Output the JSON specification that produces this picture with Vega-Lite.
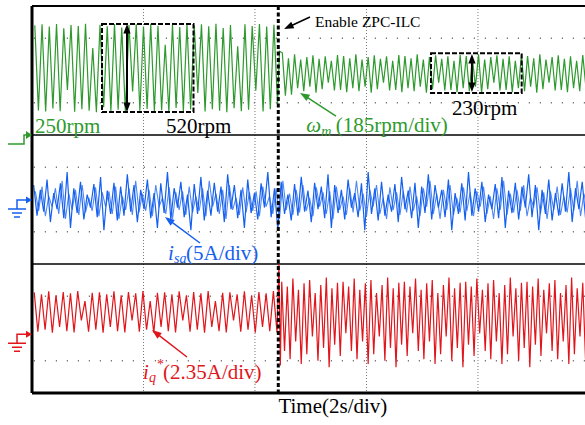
{
"$schema": "https://vega.github.io/schema/vega-lite/v6.json",
"width": 553, "height": 387, "autosize": "none",
"padding": {"left": 32, "top": 6, "right": 0, "bottom": 32},
"background": "white",
"config": {"view": {"stroke": null}},
"datasets": {
"g": [{"t":0.05,"v":11.40},{"t":0.115,"v":8.76},{"t":0.18,"v":11.43},{"t":0.245,"v":8.73},{"t":0.31,"v":11.36},{"t":0.375,"v":8.82},{"t":0.44,"v":11.44},{"t":0.505,"v":8.74},{"t":0.57,"v":11.31},{"t":0.635,"v":9.40},{"t":0.7,"v":11.41},{"t":0.765,"v":8.72},{"t":0.83,"v":11.38},{"t":0.895,"v":8.80},{"t":0.96,"v":11.45},{"t":1.025,"v":8.75},{"t":1.09,"v":10.70},{"t":1.155,"v":8.71},{"t":1.22,"v":11.42},{"t":1.285,"v":8.86},{"t":1.35,"v":11.37},{"t":1.415,"v":8.74},{"t":1.48,"v":11.44},{"t":1.545,"v":8.78},{"t":1.61,"v":11.33},{"t":1.675,"v":8.72},{"t":1.74,"v":11.41},{"t":1.805,"v":9.35},{"t":1.87,"v":11.43},{"t":1.935,"v":8.75},{"t":2.0,"v":11.36},{"t":2.065,"v":8.81},{"t":2.13,"v":11.45},{"t":2.195,"v":8.73},{"t":2.26,"v":11.39},{"t":2.325,"v":8.77},{"t":2.39,"v":10.80},{"t":2.455,"v":8.72},{"t":2.52,"v":11.42},{"t":2.585,"v":8.84},{"t":2.65,"v":11.35},{"t":2.715,"v":8.74},{"t":2.78,"v":11.44},{"t":2.845,"v":8.79},{"t":2.91,"v":11.40},{"t":2.975,"v":9.30},{"t":3.04,"v":11.43},{"t":3.105,"v":8.73},{"t":3.17,"v":11.37},{"t":3.235,"v":8.80},{"t":3.3,"v":11.45},{"t":3.365,"v":8.75},{"t":3.43,"v":11.32},{"t":3.495,"v":8.71},{"t":3.56,"v":11.41},{"t":3.625,"v":8.83},{"t":3.69,"v":10.75},{"t":3.755,"v":8.74},{"t":3.82,"v":11.43},{"t":3.885,"v":8.78},{"t":3.95,"v":11.38},{"t":4.015,"v":9.38},{"t":4.08,"v":11.44},{"t":4.145,"v":8.73},{"t":4.21,"v":11.36},{"t":4.275,"v":8.80},{"t":4.34,"v":11.42},{"t":4.405,"v":8.95},{"t":4.44,"v":10.60},
{"t":4.49,"v":10.55},{"t":4.545,"v":9.22},{"t":4.60,"v":10.38},{"t":4.655,"v":9.25},{"t":4.71,"v":10.50},{"t":4.765,"v":9.45},{"t":4.82,"v":10.34},{"t":4.875,"v":9.36},{"t":4.93,"v":10.42},{"t":4.985,"v":9.50},{"t":5.04,"v":10.47},{"t":5.095,"v":9.31},{"t":5.15,"v":10.36},{"t":5.205,"v":9.42},{"t":5.26,"v":10.44},{"t":5.315,"v":9.62},{"t":5.37,"v":10.30},{"t":5.425,"v":9.38},{"t":5.48,"v":10.48},{"t":5.535,"v":9.40},{"t":5.59,"v":10.45},{"t":5.645,"v":9.33},{"t":5.70,"v":10.38},{"t":5.755,"v":9.45},{"t":5.81,"v":10.50},{"t":5.865,"v":9.36},{"t":5.92,"v":10.34},{"t":5.975,"v":9.50},{"t":6.03,"v":10.42},{"t":6.085,"v":9.31},{"t":6.14,"v":10.47},{"t":6.195,"v":9.42},{"t":6.25,"v":10.36},{"t":6.305,"v":9.62},{"t":6.36,"v":10.44},{"t":6.415,"v":9.38},{"t":6.47,"v":10.30},{"t":6.525,"v":9.40},{"t":6.58,"v":10.48},{"t":6.635,"v":9.33},{"t":6.69,"v":10.45},{"t":6.745,"v":9.45},{"t":6.80,"v":10.38},{"t":6.855,"v":9.36},{"t":6.91,"v":10.50},{"t":6.965,"v":9.50},{"t":7.02,"v":10.34},{"t":7.075,"v":9.31},{"t":7.13,"v":10.42},{"t":7.185,"v":9.42},{"t":7.24,"v":10.47},{"t":7.295,"v":9.62},{"t":7.35,"v":10.36},{"t":7.405,"v":9.38},{"t":7.46,"v":10.44},{"t":7.515,"v":9.40},{"t":7.57,"v":10.30},{"t":7.625,"v":9.33},{"t":7.68,"v":10.48},{"t":7.735,"v":9.45},{"t":7.79,"v":10.45},{"t":7.845,"v":9.36},{"t":7.90,"v":10.38},{"t":7.955,"v":9.50},{"t":8.01,"v":10.50},{"t":8.065,"v":9.31},{"t":8.12,"v":10.34},{"t":8.175,"v":9.42},{"t":8.23,"v":10.42},{"t":8.285,"v":9.62},{"t":8.34,"v":10.47},{"t":8.395,"v":9.38},{"t":8.45,"v":10.36},{"t":8.505,"v":9.40},{"t":8.56,"v":10.44},{"t":8.615,"v":9.33},{"t":8.67,"v":10.30},{"t":8.725,"v":9.45},{"t":8.78,"v":10.48},{"t":8.835,"v":9.36},{"t":8.89,"v":10.45},{"t":8.945,"v":9.50},{"t":9.00,"v":10.38},{"t":9.055,"v":9.31},{"t":9.11,"v":10.50},{"t":9.165,"v":9.42},{"t":9.22,"v":10.34},{"t":9.275,"v":9.62},{"t":9.33,"v":10.42},{"t":9.385,"v":9.38},{"t":9.44,"v":10.47},{"t":9.495,"v":9.40},{"t":9.55,"v":10.36},{"t":9.605,"v":9.33},{"t":9.66,"v":10.44},{"t":9.715,"v":9.45},{"t":9.77,"v":10.30},{"t":9.825,"v":9.36},{"t":9.88,"v":10.48},{"t":9.935,"v":9.50}],
"b": [{"t":0.03,"v":6.45},{"t":0.09,"v":5.50},{"t":0.15,"v":6.30},{"t":0.21,"v":5.62},{"t":0.27,"v":6.62},{"t":0.33,"v":5.30},{"t":0.39,"v":6.20},{"t":0.45,"v":5.70},{"t":0.51,"v":6.50},{"t":0.57,"v":5.42},{"t":0.63,"v":6.85},{"t":0.69,"v":5.12},{"t":0.75,"v":6.35},{"t":0.81,"v":5.58},{"t":0.87,"v":6.55},{"t":0.93,"v":5.38},{"t":0.99,"v":6.15},{"t":1.05,"v":5.75},{"t":1.11,"v":6.48},{"t":1.17,"v":5.45},{"t":1.23,"v":6.70},{"t":1.29,"v":5.05},{"t":1.35,"v":6.28},{"t":1.41,"v":5.55},{"t":1.47,"v":6.52},{"t":1.53,"v":5.35},{"t":1.59,"v":6.40},{"t":1.65,"v":5.50},{"t":1.71,"v":6.78},{"t":1.77,"v":5.62},{"t":1.83,"v":6.45},{"t":1.89,"v":5.30},{"t":1.95,"v":6.30},{"t":2.01,"v":5.70},{"t":2.07,"v":6.62},{"t":2.13,"v":5.42},{"t":2.19,"v":6.20},{"t":2.25,"v":5.12},{"t":2.31,"v":6.50},{"t":2.37,"v":5.58},{"t":2.43,"v":6.85},{"t":2.49,"v":5.38},{"t":2.55,"v":6.35},{"t":2.61,"v":5.75},{"t":2.67,"v":6.55},{"t":2.73,"v":5.45},{"t":2.79,"v":6.15},{"t":2.85,"v":5.05},{"t":2.91,"v":6.48},{"t":2.97,"v":5.55},{"t":3.03,"v":6.70},{"t":3.09,"v":5.35},{"t":3.15,"v":6.28},{"t":3.21,"v":5.50},{"t":3.27,"v":6.52},{"t":3.33,"v":5.62},{"t":3.39,"v":6.40},{"t":3.45,"v":5.30},{"t":3.51,"v":6.78},{"t":3.57,"v":5.70},{"t":3.63,"v":6.45},{"t":3.69,"v":5.42},{"t":3.75,"v":6.30},{"t":3.81,"v":5.12},{"t":3.87,"v":6.62},{"t":3.93,"v":5.58},{"t":3.99,"v":6.20},{"t":4.05,"v":5.38},{"t":4.11,"v":6.50},{"t":4.17,"v":5.75},{"t":4.23,"v":6.85},{"t":4.29,"v":5.45},{"t":4.35,"v":6.35},{"t":4.41,"v":5.05},{"t":4.47,"v":6.55},{"t":4.53,"v":5.55},{"t":4.59,"v":6.15},{"t":4.65,"v":5.35},{"t":4.71,"v":6.48},{"t":4.77,"v":5.50},{"t":4.83,"v":6.70},{"t":4.89,"v":5.62},{"t":4.95,"v":6.28},{"t":5.01,"v":5.30},{"t":5.07,"v":6.52},{"t":5.13,"v":5.70},{"t":5.19,"v":6.40},{"t":5.25,"v":5.42},{"t":5.31,"v":6.78},{"t":5.37,"v":5.12},{"t":5.43,"v":6.45},{"t":5.49,"v":5.58},{"t":5.55,"v":6.30},{"t":5.61,"v":5.38},{"t":5.67,"v":6.62},{"t":5.73,"v":5.75},{"t":5.79,"v":6.20},{"t":5.85,"v":5.45},{"t":5.91,"v":6.50},{"t":5.97,"v":5.05},{"t":6.03,"v":6.85},{"t":6.09,"v":5.55},{"t":6.15,"v":6.35},{"t":6.21,"v":5.35},{"t":6.27,"v":6.55},{"t":6.33,"v":5.50},{"t":6.39,"v":6.15},{"t":6.45,"v":5.62},{"t":6.51,"v":6.48},{"t":6.57,"v":5.30},{"t":6.63,"v":6.70},{"t":6.69,"v":5.70},{"t":6.75,"v":6.28},{"t":6.81,"v":5.42},{"t":6.87,"v":6.52},{"t":6.93,"v":5.12},{"t":6.99,"v":6.40},{"t":7.05,"v":5.58},{"t":7.11,"v":6.78},{"t":7.17,"v":5.38},{"t":7.23,"v":6.45},{"t":7.29,"v":5.75},{"t":7.35,"v":6.30},{"t":7.41,"v":5.45},{"t":7.47,"v":6.62},{"t":7.53,"v":5.05},{"t":7.59,"v":6.20},{"t":7.65,"v":5.55},{"t":7.71,"v":6.50},{"t":7.77,"v":5.35},{"t":7.83,"v":6.85},{"t":7.89,"v":5.50},{"t":7.95,"v":6.35},{"t":8.01,"v":5.62},{"t":8.07,"v":6.55},{"t":8.13,"v":5.30},{"t":8.19,"v":6.15},{"t":8.25,"v":5.70},{"t":8.31,"v":6.48},{"t":8.37,"v":5.42},{"t":8.43,"v":6.70},{"t":8.49,"v":5.12},{"t":8.55,"v":6.28},{"t":8.61,"v":5.58},{"t":8.67,"v":6.52},{"t":8.73,"v":5.38},{"t":8.79,"v":6.40},{"t":8.85,"v":5.75},{"t":8.91,"v":6.78},{"t":8.97,"v":5.45},{"t":9.03,"v":6.45},{"t":9.09,"v":5.05},{"t":9.15,"v":6.30},{"t":9.21,"v":5.55},{"t":9.27,"v":6.62},{"t":9.33,"v":5.35},{"t":9.39,"v":6.20},{"t":9.45,"v":5.50},{"t":9.51,"v":6.50},{"t":9.57,"v":5.62},{"t":9.63,"v":6.85},{"t":9.69,"v":5.30},{"t":9.75,"v":6.35},{"t":9.81,"v":5.70},{"t":9.87,"v":6.55},{"t":9.93,"v":5.42}],
"b2": [{"t":0.06,"v":6.25},{"t":0.12,"v":5.65},{"t":0.18,"v":6.40},{"t":0.24,"v":5.48},{"t":0.30,"v":6.10},{"t":0.36,"v":5.78},{"t":0.42,"v":6.35},{"t":0.48,"v":5.55},{"t":0.54,"v":6.58},{"t":0.60,"v":5.40},{"t":0.66,"v":6.18},{"t":0.72,"v":5.68},{"t":0.78,"v":6.30},{"t":0.84,"v":5.52},{"t":0.90,"v":6.45},{"t":0.96,"v":5.60},{"t":1.02,"v":6.05},{"t":1.08,"v":5.65},{"t":1.14,"v":6.38},{"t":1.20,"v":5.48},{"t":1.26,"v":6.22},{"t":1.32,"v":5.78},{"t":1.38,"v":6.25},{"t":1.44,"v":5.55},{"t":1.50,"v":6.40},{"t":1.56,"v":5.40},{"t":1.62,"v":6.10},{"t":1.68,"v":5.68},{"t":1.74,"v":6.35},{"t":1.80,"v":5.52},{"t":1.86,"v":6.58},{"t":1.92,"v":5.60},{"t":1.98,"v":6.18},{"t":2.04,"v":5.65},{"t":2.10,"v":6.30},{"t":2.16,"v":5.48},{"t":2.22,"v":6.45},{"t":2.28,"v":5.78},{"t":2.34,"v":6.05},{"t":2.40,"v":5.55},{"t":2.46,"v":6.38},{"t":2.52,"v":5.40},{"t":2.58,"v":6.22},{"t":2.64,"v":5.68},{"t":2.70,"v":6.25},{"t":2.76,"v":5.52},{"t":2.82,"v":6.40},{"t":2.88,"v":5.60},{"t":2.94,"v":6.10},{"t":3.00,"v":5.65},{"t":3.06,"v":6.35},{"t":3.12,"v":5.48},{"t":3.18,"v":6.58},{"t":3.24,"v":5.78},{"t":3.30,"v":6.18},{"t":3.36,"v":5.55},{"t":3.42,"v":6.30},{"t":3.48,"v":5.40},{"t":3.54,"v":6.45},{"t":3.60,"v":5.68},{"t":3.66,"v":6.05},{"t":3.72,"v":5.52},{"t":3.78,"v":6.38},{"t":3.84,"v":5.60},{"t":3.90,"v":6.22},{"t":3.96,"v":5.65},{"t":4.02,"v":6.25},{"t":4.08,"v":5.48},{"t":4.14,"v":6.40},{"t":4.20,"v":5.78},{"t":4.26,"v":6.10},{"t":4.32,"v":5.55},{"t":4.38,"v":6.35},{"t":4.44,"v":5.40},{"t":4.50,"v":6.58},{"t":4.56,"v":5.68},{"t":4.62,"v":6.18},{"t":4.68,"v":5.52},{"t":4.74,"v":6.30},{"t":4.80,"v":5.60},{"t":4.86,"v":6.45},{"t":4.92,"v":5.65},{"t":4.98,"v":6.05},{"t":5.04,"v":5.48},{"t":5.10,"v":6.38},{"t":5.16,"v":5.78},{"t":5.22,"v":6.22},{"t":5.28,"v":5.55},{"t":5.34,"v":6.25},{"t":5.40,"v":5.40},{"t":5.46,"v":6.40},{"t":5.52,"v":5.68},{"t":5.58,"v":6.10},{"t":5.64,"v":5.52},{"t":5.70,"v":6.35},{"t":5.76,"v":5.60},{"t":5.82,"v":6.58},{"t":5.88,"v":5.65},{"t":5.94,"v":6.18},{"t":6.00,"v":5.48},{"t":6.06,"v":6.30},{"t":6.12,"v":5.78},{"t":6.18,"v":6.45},{"t":6.24,"v":5.55},{"t":6.30,"v":6.05},{"t":6.36,"v":5.40},{"t":6.42,"v":6.38},{"t":6.48,"v":5.68},{"t":6.54,"v":6.22},{"t":6.60,"v":5.52},{"t":6.66,"v":6.25},{"t":6.72,"v":5.60},{"t":6.78,"v":6.40},{"t":6.84,"v":5.65},{"t":6.90,"v":6.10},{"t":6.96,"v":5.48},{"t":7.02,"v":6.35},{"t":7.08,"v":5.78},{"t":7.14,"v":6.58},{"t":7.20,"v":5.55},{"t":7.26,"v":6.18},{"t":7.32,"v":5.40},{"t":7.38,"v":6.30},{"t":7.44,"v":5.68},{"t":7.50,"v":6.45},{"t":7.56,"v":5.52},{"t":7.62,"v":6.05},{"t":7.68,"v":5.60},{"t":7.74,"v":6.38},{"t":7.80,"v":5.65},{"t":7.86,"v":6.22},{"t":7.92,"v":5.48},{"t":7.98,"v":6.25},{"t":8.04,"v":5.78},{"t":8.10,"v":6.40},{"t":8.16,"v":5.55},{"t":8.22,"v":6.10},{"t":8.28,"v":5.40},{"t":8.34,"v":6.35},{"t":8.40,"v":5.68},{"t":8.46,"v":6.58},{"t":8.52,"v":5.52},{"t":8.58,"v":6.18},{"t":8.64,"v":5.60},{"t":8.70,"v":6.30},{"t":8.76,"v":5.65},{"t":8.82,"v":6.45},{"t":8.88,"v":5.48},{"t":8.94,"v":6.05},{"t":9.00,"v":5.78},{"t":9.06,"v":6.38},{"t":9.12,"v":5.55},{"t":9.18,"v":6.22},{"t":9.24,"v":5.40},{"t":9.30,"v":6.25},{"t":9.36,"v":5.68},{"t":9.42,"v":6.40},{"t":9.48,"v":5.52},{"t":9.54,"v":6.10},{"t":9.60,"v":5.60},{"t":9.66,"v":6.35},{"t":9.72,"v":5.65},{"t":9.78,"v":6.58},{"t":9.84,"v":5.48},{"t":9.90,"v":6.18},{"t":9.96,"v":5.78}],
"r": [{"t":0.04,"v":3.12},{"t":0.105,"v":1.90},{"t":0.17,"v":3.06},{"t":0.235,"v":1.96},{"t":0.30,"v":3.15},{"t":0.365,"v":1.87},{"t":0.43,"v":3.03},{"t":0.495,"v":2.05},{"t":0.56,"v":3.13},{"t":0.625,"v":1.92},{"t":0.69,"v":3.09},{"t":0.755,"v":1.88},{"t":0.82,"v":3.16},{"t":0.885,"v":2.25},{"t":0.95,"v":2.85},{"t":1.015,"v":1.90},{"t":1.08,"v":3.11},{"t":1.145,"v":1.96},{"t":1.21,"v":3.12},{"t":1.275,"v":1.87},{"t":1.34,"v":3.06},{"t":1.405,"v":2.05},{"t":1.47,"v":3.15},{"t":1.535,"v":1.92},{"t":1.60,"v":3.03},{"t":1.665,"v":1.88},{"t":1.73,"v":3.13},{"t":1.795,"v":2.25},{"t":1.86,"v":3.09},{"t":1.925,"v":1.90},{"t":1.99,"v":3.16},{"t":2.055,"v":1.96},{"t":2.12,"v":2.85},{"t":2.185,"v":1.87},{"t":2.25,"v":3.11},{"t":2.315,"v":2.05},{"t":2.38,"v":3.12},{"t":2.445,"v":1.92},{"t":2.51,"v":3.06},{"t":2.575,"v":1.88},{"t":2.64,"v":3.15},{"t":2.705,"v":2.25},{"t":2.77,"v":3.03},{"t":2.835,"v":1.90},{"t":2.90,"v":3.13},{"t":2.965,"v":1.96},{"t":3.03,"v":3.09},{"t":3.095,"v":1.87},{"t":3.16,"v":3.16},{"t":3.225,"v":2.05},{"t":3.29,"v":2.85},{"t":3.355,"v":1.92},{"t":3.42,"v":3.11},{"t":3.485,"v":1.88},{"t":3.55,"v":3.12},{"t":3.615,"v":2.25},{"t":3.68,"v":3.06},{"t":3.745,"v":1.90},{"t":3.81,"v":3.15},{"t":3.875,"v":1.96},{"t":3.94,"v":3.03},{"t":4.005,"v":1.87},{"t":4.07,"v":3.13},{"t":4.135,"v":2.05},{"t":4.20,"v":3.09},{"t":4.265,"v":1.92},{"t":4.33,"v":3.16},{"t":4.395,"v":1.88},{"t":4.43,"v":4.00},{"t":4.455,"v":0.85},
{"t":4.48,"v":3.45},{"t":4.53,"v":1.30},{"t":4.58,"v":3.30},{"t":4.63,"v":1.05},{"t":4.68,"v":3.55},{"t":4.73,"v":1.60},{"t":4.78,"v":3.20},{"t":4.83,"v":0.90},{"t":4.88,"v":3.40},{"t":4.93,"v":1.20},{"t":4.98,"v":3.50},{"t":5.03,"v":1.75},{"t":5.08,"v":3.10},{"t":5.13,"v":1.00},{"t":5.18,"v":3.35},{"t":5.23,"v":1.40},{"t":5.28,"v":3.58},{"t":5.33,"v":0.80},{"t":5.38,"v":3.25},{"t":5.43,"v":1.50},{"t":5.48,"v":3.42},{"t":5.53,"v":1.15},{"t":5.58,"v":3.45},{"t":5.63,"v":1.85},{"t":5.68,"v":3.30},{"t":5.73,"v":1.30},{"t":5.78,"v":3.55},{"t":5.83,"v":1.05},{"t":5.88,"v":3.20},{"t":5.93,"v":1.60},{"t":5.98,"v":3.40},{"t":6.03,"v":0.90},{"t":6.08,"v":3.50},{"t":6.13,"v":1.20},{"t":6.18,"v":3.10},{"t":6.23,"v":1.75},{"t":6.28,"v":3.35},{"t":6.33,"v":1.00},{"t":6.38,"v":3.58},{"t":6.43,"v":1.40},{"t":6.48,"v":3.25},{"t":6.53,"v":0.80},{"t":6.58,"v":3.42},{"t":6.63,"v":1.50},{"t":6.68,"v":3.45},{"t":6.73,"v":1.15},{"t":6.78,"v":3.30},{"t":6.83,"v":1.85},{"t":6.88,"v":3.55},{"t":6.93,"v":1.30},{"t":6.98,"v":3.20},{"t":7.03,"v":1.05},{"t":7.08,"v":3.40},{"t":7.13,"v":1.60},{"t":7.18,"v":3.50},{"t":7.23,"v":0.90},{"t":7.28,"v":3.10},{"t":7.33,"v":1.20},{"t":7.38,"v":3.35},{"t":7.43,"v":1.75},{"t":7.48,"v":3.58},{"t":7.53,"v":1.00},{"t":7.58,"v":3.25},{"t":7.63,"v":1.40},{"t":7.68,"v":3.42},{"t":7.73,"v":0.80},{"t":7.78,"v":3.45},{"t":7.83,"v":1.50},{"t":7.88,"v":3.30},{"t":7.93,"v":1.15},{"t":7.98,"v":3.55},{"t":8.03,"v":1.85},{"t":8.08,"v":3.20},{"t":8.13,"v":1.30},{"t":8.18,"v":3.40},{"t":8.23,"v":1.05},{"t":8.28,"v":3.50},{"t":8.33,"v":1.60},{"t":8.38,"v":3.10},{"t":8.43,"v":0.90},{"t":8.48,"v":3.35},{"t":8.53,"v":1.20},{"t":8.58,"v":3.58},{"t":8.63,"v":1.75},{"t":8.68,"v":3.25},{"t":8.73,"v":1.00},{"t":8.78,"v":3.42},{"t":8.83,"v":1.40},{"t":8.88,"v":3.45},{"t":8.93,"v":0.80},{"t":8.98,"v":3.30},{"t":9.03,"v":1.50},{"t":9.08,"v":3.55},{"t":9.13,"v":1.15},{"t":9.18,"v":3.20},{"t":9.23,"v":1.85},{"t":9.28,"v":3.40},{"t":9.33,"v":1.30},{"t":9.38,"v":3.50},{"t":9.43,"v":1.05},{"t":9.48,"v":3.10},{"t":9.53,"v":1.60},{"t":9.58,"v":3.35},{"t":9.63,"v":0.90},{"t":9.68,"v":3.58},{"t":9.73,"v":1.20},{"t":9.78,"v":3.25},{"t":9.83,"v":1.75},{"t":9.88,"v":3.42},{"t":9.93,"v":1.00}],
"markers": [{"t":-0.215,"v":7.845,"ch":"g"},{"t":-0.215,"v":5.736,"ch":"b"},{"t":-0.215,"v":1.572,"ch":"r"}]
},
"layer": [
{"data":{"values":[{"v":11},{"v":9},{"v":7},{"v":5},{"v":3},{"v":1}]},
 "mark":{"type":"rule","color":"#777777","strokeWidth":1.5,"strokeDash":[1.2,9.8]},
 "encoding":{"y":{"field":"v","type":"quantitative","scale":{"domain":[0,12],"nice":false,"zero":false},"axis":null}}},
{"data":{"values":[{"t":2},{"t":4},{"t":6},{"t":8}]},
 "mark":{"type":"rule","color":"#777777","strokeWidth":1,"strokeDash":[1,2]},
 "encoding":{"x":{"field":"t","type":"quantitative","scale":{"domain":[0,9.92],"nice":false,"zero":false},"axis":null}}},
{"data":{"values":[{"v":4},{"v":8}]},
 "mark":{"type":"rule","color":"#000000","strokeWidth":1.3},
 "encoding":{"y":{"field":"v","type":"quantitative","scale":{"domain":[0,12],"nice":false,"zero":false},"axis":null}}},
{"data":{"name":"g"},
 "mark":{"type":"line","color":"#2e9a2e","strokeWidth":1.2},
 "encoding":{"x":{"field":"t","type":"quantitative","scale":{"domain":[0,9.92],"nice":false,"zero":false},"axis":null},
  "y":{"field":"v","type":"quantitative","scale":{"domain":[0,12],"nice":false,"zero":false},"axis":null}}},
{"data":{"name":"b2"},
 "mark":{"type":"line","color":"#4f88f2","strokeWidth":1.1},
 "encoding":{"x":{"field":"t","type":"quantitative","scale":{"domain":[0,9.92],"nice":false,"zero":false},"axis":null},
  "y":{"field":"v","type":"quantitative","scale":{"domain":[0,12],"nice":false,"zero":false},"axis":null}}},
{"data":{"name":"b"},
 "mark":{"type":"line","color":"#1560ee","strokeWidth":1.2},
 "encoding":{"x":{"field":"t","type":"quantitative","scale":{"domain":[0,9.92],"nice":false,"zero":false},"axis":null},
  "y":{"field":"v","type":"quantitative","scale":{"domain":[0,12],"nice":false,"zero":false},"axis":null}}},
{"data":{"name":"r"},
 "mark":{"type":"line","color":"#e0161c","strokeWidth":1.2},
 "encoding":{"x":{"field":"t","type":"quantitative","scale":{"domain":[0,9.92],"nice":false,"zero":false},"axis":null},
  "y":{"field":"v","type":"quantitative","scale":{"domain":[0,12],"nice":false,"zero":false},"axis":null}}},
{"data":{"values":[{"v":12}]},
 "mark":{"type":"rule","color":"#000000","strokeWidth":2},
 "encoding":{"y":{"field":"v","type":"quantitative","scale":{"domain":[0,12],"nice":false,"zero":false},"axis":null}}},
{"data":{"values":[{"v":0}]},
 "mark":{"type":"rule","color":"#000000","strokeWidth":3},
 "encoding":{"y":{"field":"v","type":"quantitative","scale":{"domain":[0,12],"nice":false,"zero":false},"axis":null}}},
{"data":{"values":[{"t":0}]},
 "mark":{"type":"rule","color":"#000000","strokeWidth":3},
 "encoding":{"x":{"field":"t","type":"quantitative","scale":{"domain":[0,9.92],"nice":false,"zero":false},"axis":null}}},
{"data":{"values":[{"t":4.418}]},
 "mark":{"type":"rule","color":"#000000","strokeWidth":3,"strokeDash":[4,2.5]},
 "encoding":{"x":{"field":"t","type":"quantitative","scale":{"domain":[0,9.92],"nice":false,"zero":false},"axis":null}}},
{"data":{"values":[{"t":1.256,"t2":2.897,"v":11.442,"v2":8.713},{"t":7.157,"t2":8.784,"v":10.533,"v2":9.302}]},
 "mark":{"type":"rect","fillOpacity":0,"stroke":"#000000","strokeWidth":2,"strokeDash":[5,2]},
 "encoding":{"x":{"field":"t","type":"quantitative","scale":{"domain":[0,9.92],"nice":false,"zero":false},"axis":null},"x2":{"field":"t2"},
  "y":{"field":"v","type":"quantitative","scale":{"domain":[0,12],"nice":false,"zero":false},"axis":null},"y2":{"field":"v2"}}},
{"data":{"values":[{"t":1.704,"v":11.35,"v2":8.80},{"t":7.892,"v":10.43,"v2":9.42}]},
 "mark":{"type":"rule","color":"#000000","strokeWidth":2},
 "encoding":{"x":{"field":"t","type":"quantitative","scale":{"domain":[0,9.92],"nice":false,"zero":false},"axis":null},
  "y":{"field":"v","type":"quantitative","scale":{"domain":[0,12],"nice":false,"zero":false},"axis":null},"y2":{"field":"v2"}}},
{"data":{"values":[{"t":1.704,"v":11.256},{"t":7.892,"v":10.326}]},
 "mark":{"type":"point","shape":"M 0 -1 L 0.6 0.6 L -0.6 0.6 Z","size":144,"filled":true,"color":"#000000","opacity":1,"angle":0},
 "encoding":{"x":{"field":"t","type":"quantitative","scale":{"domain":[0,9.92],"nice":false,"zero":false},"axis":null},
  "y":{"field":"v","type":"quantitative","scale":{"domain":[0,12],"nice":false,"zero":false},"axis":null}}},
{"data":{"values":[{"t":1.704,"v":8.899},{"t":7.892,"v":9.519}]},
 "mark":{"type":"point","shape":"M 0 -1 L 0.6 0.6 L -0.6 0.6 Z","size":144,"filled":true,"color":"#000000","opacity":1,"angle":180},
 "encoding":{"x":{"field":"t","type":"quantitative","scale":{"domain":[0,9.92],"nice":false,"zero":false},"axis":null},
  "y":{"field":"v","type":"quantitative","scale":{"domain":[0,12],"nice":false,"zero":false},"axis":null}}},
{"data":{"values":[{"t":4.987,"v":11.659,"t2":4.619,"v2":11.364,"ch":"k"},{"t":5.453,"v":8.589,"t2":4.901,"v2":9.209,"ch":"g"},{"t":3.013,"v":4.651,"t2":2.472,"v2":5.346,"ch":"b"},{"t":2.780,"v":1.116,"t2":2.238,"v2":1.839,"ch":"r"}]},
 "mark":{"type":"rule","strokeWidth":1.5},
 "encoding":{"x":{"field":"t","type":"quantitative","scale":{"domain":[0,9.92],"nice":false,"zero":false},"axis":null},"x2":{"field":"t2"},
  "y":{"field":"v","type":"quantitative","scale":{"domain":[0,12],"nice":false,"zero":false},"axis":null},"y2":{"field":"v2"},
  "color":{"field":"ch","type":"nominal","scale":{"domain":["g","b","r","k"],"range":["#2e9a2e","#1560ee","#e0161c","#000000"]},"legend":null}}},
{"data":{"values":[{"t":4.619,"v":11.364,"ch":"k"}]},
 "mark":{"type":"point","shape":"M 0 -1 L 0.6 0.6 L -0.6 0.6 Z","size":144,"filled":true,"opacity":1,"angle":245},
 "encoding":{"x":{"field":"t","type":"quantitative","scale":{"domain":[0,9.92],"nice":false,"zero":false},"axis":null},
  "y":{"field":"v","type":"quantitative","scale":{"domain":[0,12],"nice":false,"zero":false},"axis":null},
  "color":{"field":"ch","type":"nominal","scale":{"domain":["g","b","r","k"],"range":["#2e9a2e","#1560ee","#e0161c","#000000"]},"legend":null}}},
{"data":{"values":[{"t":4.901,"v":9.209,"ch":"g"}]},
 "mark":{"type":"point","shape":"M 0 -1 L 0.6 0.6 L -0.6 0.6 Z","size":144,"filled":true,"opacity":1,"angle":300},
 "encoding":{"x":{"field":"t","type":"quantitative","scale":{"domain":[0,9.92],"nice":false,"zero":false},"axis":null},
  "y":{"field":"v","type":"quantitative","scale":{"domain":[0,12],"nice":false,"zero":false},"axis":null},
  "color":{"field":"ch","type":"nominal","scale":{"domain":["g","b","r","k"],"range":["#2e9a2e","#1560ee","#e0161c","#000000"]},"legend":null}}},
{"data":{"values":[{"t":2.472,"v":5.346,"ch":"b"},{"t":2.238,"v":1.839,"ch":"r"}]},
 "mark":{"type":"point","shape":"M 0 -1 L 0.6 0.6 L -0.6 0.6 Z","size":144,"filled":true,"opacity":1,"angle":307},
 "encoding":{"x":{"field":"t","type":"quantitative","scale":{"domain":[0,9.92],"nice":false,"zero":false},"axis":null},
  "y":{"field":"v","type":"quantitative","scale":{"domain":[0,12],"nice":false,"zero":false},"axis":null},
  "color":{"field":"ch","type":"nominal","scale":{"domain":["g","b","r","k"],"range":["#2e9a2e","#1560ee","#e0161c","#000000"]},"legend":null}}},
{"data":{"name":"markers"},"transform":[{"filter":"datum.ch == 'g'"}],
 "mark":{"type":"point","shape":"M -1 0.333 L 0.333 0.333 L 0.333 -0.417 L 0.6 -0.417","size":576,"filled":false,"strokeWidth":1.5,"opacity":1,"clip":false},
 "encoding":{"x":{"field":"t","type":"quantitative","scale":{"domain":[0,9.92],"nice":false,"zero":false},"axis":null},
  "y":{"field":"v","type":"quantitative","scale":{"domain":[0,12],"nice":false,"zero":false},"axis":null},
  "color":{"field":"ch","type":"nominal","scale":{"domain":["g","b","r","k"],"range":["#2e9a2e","#1560ee","#e0161c","#000000"]},"legend":null}}},
{"data":{"name":"markers"},"transform":[{"filter":"datum.ch == 'g'"}],
 "mark":{"type":"point","shape":"M 0.5 -0.75 L 1 -0.417 L 0.5 -0.083 Z","size":576,"filled":true,"opacity":1,"clip":false},
 "encoding":{"x":{"field":"t","type":"quantitative","scale":{"domain":[0,9.92],"nice":false,"zero":false},"axis":null},
  "y":{"field":"v","type":"quantitative","scale":{"domain":[0,12],"nice":false,"zero":false},"axis":null},
  "color":{"field":"ch","type":"nominal","scale":{"domain":["g","b","r","k"],"range":["#2e9a2e","#1560ee","#e0161c","#000000"]},"legend":null}}},
{"data":{"name":"markers"},"transform":[{"filter":"datum.ch != 'g'"}],
 "mark":{"type":"point","shape":"M 0.6 -0.667 L -0.25 -0.667 L -0.25 0.083 M -1 0.083 L 0.5 0.083 M -0.667 0.417 L 0.167 0.417 M -0.5 0.75 L 0 0.75","size":576,"filled":false,"strokeWidth":1.5,"opacity":1,"clip":false},
 "encoding":{"x":{"field":"t","type":"quantitative","scale":{"domain":[0,9.92],"nice":false,"zero":false},"axis":null},
  "y":{"field":"v","type":"quantitative","scale":{"domain":[0,12],"nice":false,"zero":false},"axis":null},
  "color":{"field":"ch","type":"nominal","scale":{"domain":["g","b","r","k"],"range":["#2e9a2e","#1560ee","#e0161c","#000000"]},"legend":null}}},
{"data":{"name":"markers"},"transform":[{"filter":"datum.ch != 'g'"}],
 "mark":{"type":"point","shape":"M 0.5 -0.96 L 1 -0.667 L 0.5 -0.375 Z","size":576,"filled":true,"opacity":1,"clip":false},
 "encoding":{"x":{"field":"t","type":"quantitative","scale":{"domain":[0,9.92],"nice":false,"zero":false},"axis":null},
  "y":{"field":"v","type":"quantitative","scale":{"domain":[0,12],"nice":false,"zero":false},"axis":null},
  "color":{"field":"ch","type":"nominal","scale":{"domain":["g","b","r","k"],"range":["#2e9a2e","#1560ee","#e0161c","#000000"]},"legend":null}}},
{"data":{"values":[{"t":0.054,"v":8.053,"txt":"250rpm","ch":"g"},{"t":2.404,"v":8.053,"txt":"520rpm","ch":"k"},{"t":5.45,"v":8.084,"txt":"(185rpm/div)","ch":"g"},{"t":7.534,"v":8.62,"txt":"230rpm","ch":"k"},{"t":2.762,"v":4.124,"txt":"(5A/div)","ch":"b"},{"t":2.35,"v":0.434,"txt":"(2.35A/div)","ch":"r"},{"t":4.42,"v":-0.62,"txt":"Time(2s/div)","ch":"k"}]},
 "mark":{"type":"text","font":"Liberation Serif","fontSize":21,"align":"left","baseline":"alphabetic","clip":false},
 "encoding":{"x":{"field":"t","type":"quantitative","scale":{"domain":[0,9.92],"nice":false,"zero":false},"axis":null},
  "y":{"field":"v","type":"quantitative","scale":{"domain":[0,12],"nice":false,"zero":false},"axis":null},
  "text":{"field":"txt"},
  "color":{"field":"ch","type":"nominal","scale":{"domain":["g","b","r","k"],"range":["#2e9a2e","#1560ee","#e0161c","#000000"]},"legend":null}}},
{"data":{"values":[{"t":4.92,"v":8.084,"txt":"ω","ch":"g"},{"t":2.44,"v":4.124,"txt":"i","ch":"b"},{"t":1.991,"v":0.434,"txt":"i","ch":"r"}]},
 "mark":{"type":"text","font":"Liberation Serif","fontSize":21,"fontStyle":"italic","align":"left","baseline":"alphabetic"},
 "encoding":{"x":{"field":"t","type":"quantitative","scale":{"domain":[0,9.92],"nice":false,"zero":false},"axis":null},
  "y":{"field":"v","type":"quantitative","scale":{"domain":[0,12],"nice":false,"zero":false},"axis":null},
  "text":{"field":"txt"},
  "color":{"field":"ch","type":"nominal","scale":{"domain":["g","b","r","k"],"range":["#2e9a2e","#1560ee","#e0161c","#000000"]},"legend":null}}},
{"data":{"values":[{"t":5.19,"v":7.98,"txt":"m","ch":"g"},{"t":2.547,"v":4.031,"txt":"sa","ch":"b"},{"t":2.099,"v":0.341,"txt":"q","ch":"r"}]},
 "mark":{"type":"text","font":"Liberation Serif","fontSize":14,"fontStyle":"italic","align":"left","baseline":"alphabetic"},
 "encoding":{"x":{"field":"t","type":"quantitative","scale":{"domain":[0,9.92],"nice":false,"zero":false},"axis":null},
  "y":{"field":"v","type":"quantitative","scale":{"domain":[0,12],"nice":false,"zero":false},"axis":null},
  "text":{"field":"txt"},
  "color":{"field":"ch","type":"nominal","scale":{"domain":["g","b","r","k"],"range":["#2e9a2e","#1560ee","#e0161c","#000000"]},"legend":null}}},
{"data":{"values":[{"t":2.242,"v":0.74,"txt":"*","ch":"r"}]},
 "mark":{"type":"text","font":"Liberation Serif","fontSize":14,"align":"left","baseline":"alphabetic"},
 "encoding":{"x":{"field":"t","type":"quantitative","scale":{"domain":[0,9.92],"nice":false,"zero":false},"axis":null},
  "y":{"field":"v","type":"quantitative","scale":{"domain":[0,12],"nice":false,"zero":false},"axis":null},
  "text":{"field":"txt"},
  "color":{"field":"ch","type":"nominal","scale":{"domain":["g","b","r","k"],"range":["#2e9a2e","#1560ee","#e0161c","#000000"]},"legend":null}}},
{"data":{"values":[{"t":5.076,"v":11.358,"txt":"Enable ZPC-ILC","ch":"k"}]},
 "mark":{"type":"text","font":"Liberation Serif","fontSize":15.5,"align":"left","baseline":"alphabetic"},
 "encoding":{"x":{"field":"t","type":"quantitative","scale":{"domain":[0,9.92],"nice":false,"zero":false},"axis":null},
  "y":{"field":"v","type":"quantitative","scale":{"domain":[0,12],"nice":false,"zero":false},"axis":null},
  "text":{"field":"txt"},
  "color":{"field":"ch","type":"nominal","scale":{"domain":["g","b","r","k"],"range":["#2e9a2e","#1560ee","#e0161c","#000000"]},"legend":null}}}
]
}
